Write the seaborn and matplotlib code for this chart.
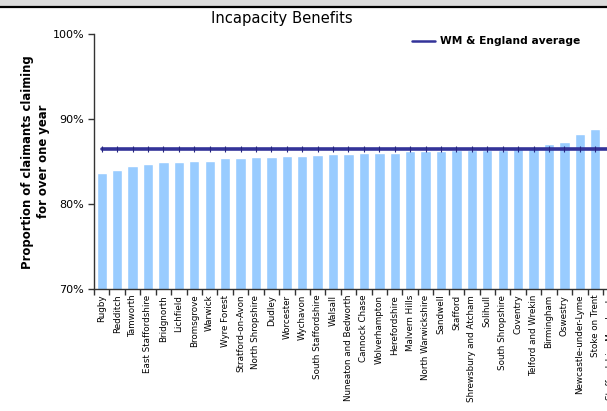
import matplotlib
matplotlib.use('Agg')
import matplotlib.pyplot as plt
import seaborn as sns
import pandas as pd
import numpy as np
from matplotlib.patches import Rectangle
from matplotlib.lines import Line2D
from matplotlib.ticker import FixedLocator, PercentFormatter

# data
districts = ['Rugby', 'Redditch', 'Tamworth', 'East Staffordshire', 'Bridgnorth',
             'Lichfield', 'Bromsgrove', 'Warwick', 'Wyre Forest', 'Stratford-on-Avon',
             'North Shropshire', 'Dudley', 'Worcester', 'Wychavon', 'South Staffordshire',
             'Walsall', 'Nuneaton and Bedworth', 'Cannock Chase', 'Wolverhampton',
             'Herefordshire', 'Malvern Hills', 'North Warwickshire', 'Sandwell', 'Stafford',
             'Shrewsbury and Atcham', 'Solihull', 'South Shropshire', 'Coventry',
             'Telford and Wrekin', 'Birmingham', 'Oswestry', 'Newcastle-under-Lyme',
             'Stoke on Trent', 'Staffordshire Moorlands']
pct_over_one_year = [83.7, 84.0, 84.5, 84.7, 85.0, 85.0, 85.1, 85.1, 85.4, 85.4,
                     85.5, 85.5, 85.7, 85.7, 85.8, 85.9, 85.9, 86.0, 86.0, 86.0,
                     86.2, 86.2, 86.2, 86.4, 86.4, 86.4, 86.4, 86.7, 86.7, 87.1,
                     87.3, 88.3, 88.8, 88.9]
wm_england_avg = 86.5
y_ticks = [70, 80, 90, 100]

df = pd.DataFrame({'District': districts, 'Pct': pct_over_one_year})
df['Avg'] = wm_england_avg
df['Pos'] = range(len(df))

sns.set_style('white')
plt.rcParams['font.family'] = ['DejaVu Sans']
plt.rcParams['text.color'] = 'black'
plt.rcParams['axes.labelcolor'] = 'black'
plt.rcParams['xtick.color'] = 'black'
plt.rcParams['ytick.color'] = 'black'

fig = plt.figure(figsize=(6.07, 4.11), dpi=100)
# axes deliberately runs past the right edge (reference is a cropped chart)
ax = fig.add_axes([94 / 607, 121.7 / 411, 524.4 / 607, 255.3 / 411])

sns.barplot(data=df, x='District', y='Pct', color='#99ccff', saturation=1,
            width=0.67, ax=ax, zorder=2)
sns.lineplot(data=df, x='Pos', y='Avg', color='#333399', linewidth=2.6,
             marker='|', markersize=4, markeredgewidth=0.8,
             markeredgecolor='#262680', ax=ax, zorder=3, legend=False)

ax.set_xlim(-0.5, len(districts) - 0.5)
ax.set_ylim(70, 100)
ax.set_yticks(y_ticks)
ax.yaxis.set_major_formatter(PercentFormatter(decimals=0))
ax.tick_params(axis='y', which='major', direction='out', length=4, width=1,
               color='#333333', labelsize=8, pad=3, left=True)
ax.xaxis.set_minor_locator(FixedLocator(np.arange(len(districts) + 1) - 0.5))
ax.tick_params(axis='x', which='major', length=0, labelsize=6.3, pad=4,
               labelrotation=90)
ax.tick_params(axis='x', which='minor', direction='out', length=4, width=1,
               color='#333333', bottom=True)
for lbl in ax.get_xticklabels():
    lbl.set_va('top')

for side in ['top', 'right']:
    ax.spines[side].set_visible(False)
for side in ['left', 'bottom']:
    ax.spines[side].set_color('#333333')
    ax.spines[side].set_linewidth(1)

ax.set_xlabel('')
ax.set_ylabel('Proportion of claimants claiming\nfor over one year',
              fontsize=8.4, fontweight='bold', linespacing=1.25)
ax.yaxis.set_label_coords(-44 / 524.4, 0.5)

fig.text(282 / 607, 1 - 18 / 411, 'Incapacity Benefits', ha='center', va='center',
         fontsize=10.6)

# legend
fig.add_artist(Line2D([412 / 607, 435 / 607], [1 - 41 / 411, 1 - 41 / 411],
                      color='#333399', linewidth=1.8, transform=fig.transFigure))
fig.text(440 / 607, 1 - 41 / 411, 'WM & England average', ha='left', va='center',
         fontsize=7.7, fontweight='bold')

# window frame at the top
fig.add_artist(Rectangle((0, 1 - 6 / 411), 1, 6 / 411, facecolor='#dcdcdc',
                         edgecolor='none', transform=fig.transFigure))
fig.add_artist(Line2D([0, 1], [1 - 7.5 / 411, 1 - 7.5 / 411], color='black',
                      linewidth=1.6, transform=fig.transFigure))

fig.savefig('out.png', dpi=100)
